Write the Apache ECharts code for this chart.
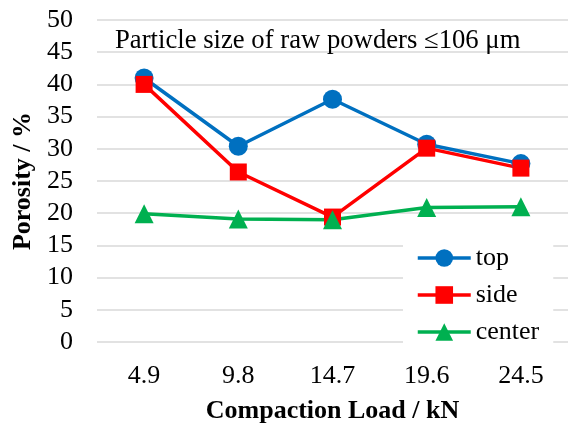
<!DOCTYPE html>
<html>
<head>
<meta charset="utf-8">
<script src="https://cdn.jsdelivr.net/npm/echarts@6/dist/echarts.min.js"></script>
<style>html,body{margin:0;padding:0;background:#fff}#c{width:568px;height:425px}</style>
</head>
<body>
<div id="c"></div>
<script>
const categories = ['4.9', '9.8', '14.7', '19.6', '24.5'];
const topVals = [41.0, 30.4, 37.7, 30.7, 27.7];
const sideVals = [40.0, 26.4, 19.4, 30.1, 27.0];
const centerVals = [19.9, 19.1, 19.0, 20.9, 21.0];
const yTicks = [0, 5, 10, 15, 20, 25, 30, 35, 40, 45, 50];

const font = '"Liberation Serif", "Times New Roman", serif';
const chart = echarts.init(document.getElementById('c'), null, {renderer: 'canvas'});
function mk(name, data, color, symbol, size) {
  return {
    name, type: 'line', data, symbol, symbolSize: size,
    lineStyle: {color, width: 3.5}, itemStyle: {color},
    emphasis: {disabled: true}, z: 3
  };
}
chart.setOption({
  animation: false,
  backgroundColor: '#fff',
  textStyle: {fontFamily: font},
  title: {
    text: 'Particle size of raw powders \u2264106 \u03bcm',
    left: 110, top: 22,
    textStyle: {fontFamily: font, fontSize: 26.7, fontWeight: 'normal', color: '#000'}
  },
  grid: {left: 97, right: 0, top: 20, bottom: 83, containLabel: false, outerBoundsMode: 'none'},
  legend: {
    orient: 'vertical', left: 403, top: 241,
    backgroundColor: '#fff', padding: [4, 14, 4, 13],
    itemWidth: 53, itemHeight: 22, itemGap: 11,
    lineStyle: {width: 3.5},
    textStyle: {fontFamily: font, fontSize: 26, lineHeight: 26, color: '#000'},
    data: ['top', 'side', 'center']
  },
  xAxis: {
    type: 'category', data: categories, boundaryGap: true,
    axisLine: {show: false}, axisTick: {show: false},
    axisLabel: {fontFamily: font, fontSize: 26, color: '#000', margin: 21},
    name: 'Compaction Load / kN', nameLocation: 'middle', nameGap: 56,
    nameTextStyle: {fontFamily: font, fontSize: 26, fontWeight: 'bold', color: '#000'}
  },
  yAxis: {
    type: 'value', min: yTicks[0], max: yTicks[yTicks.length - 1], interval: 5,
    axisLine: {show: false}, axisTick: {show: false},
    splitLine: {lineStyle: {color: '#d9d9d9', width: 1.5}},
    axisLabel: {fontFamily: font, fontSize: 26, color: '#000', margin: 24},
    name: 'Porosity / %', nameLocation: 'middle', nameGap: 60,
    nameTextStyle: {fontFamily: font, fontSize: 26, fontWeight: 'bold', color: '#000'}
  },
  series: [
    mk('top', topVals, '#0070C0', 'circle', 19),
    mk('side', sideVals, '#FF0000', 'rect', 17),
    mk('center', centerVals, '#00B050', 'triangle', 19)
  ]
});
</script>
</body>
</html>
